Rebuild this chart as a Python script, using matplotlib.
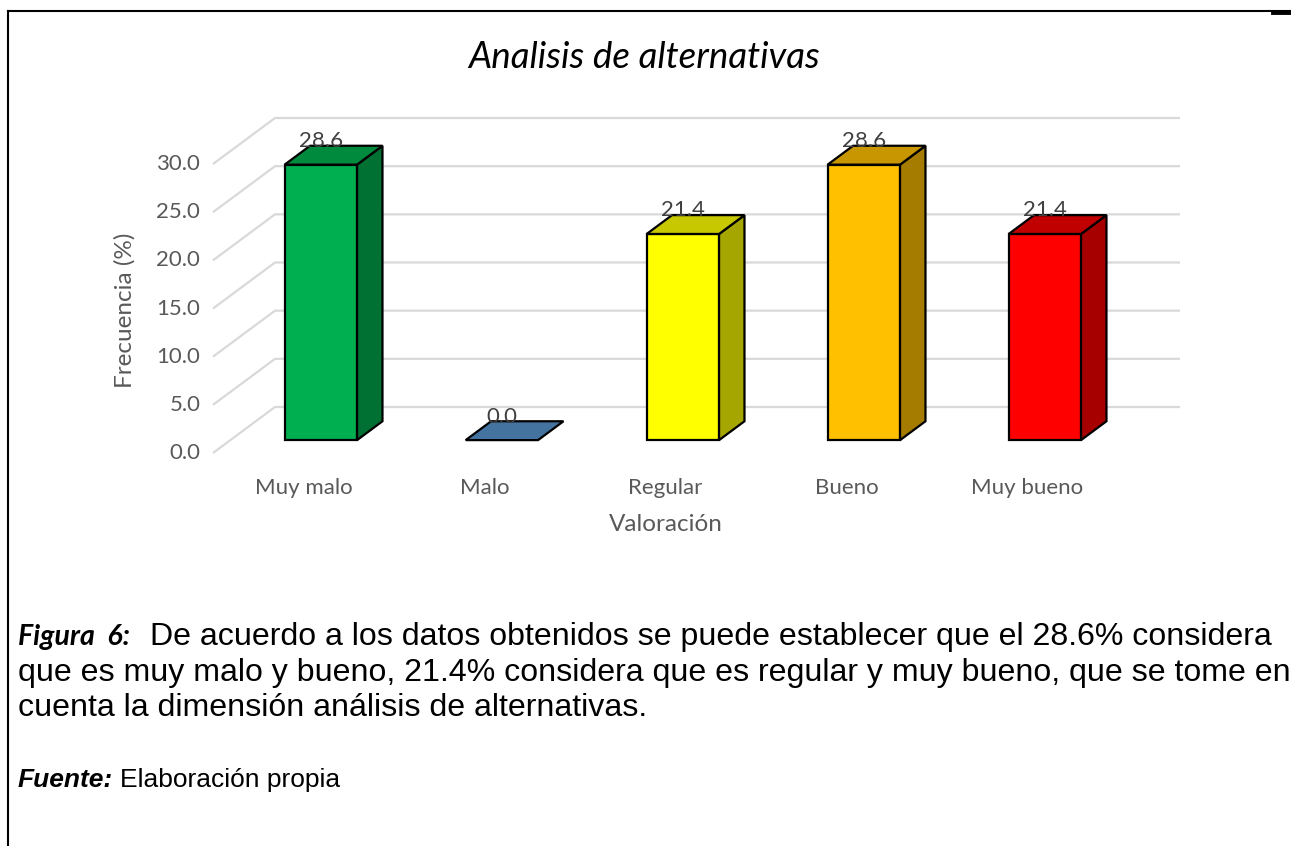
import numpy as np
import matplotlib.pyplot as plt
from matplotlib.patches import Polygon
from matplotlib.lines import Line2D

categories = ["Muy malo", "Malo", "Regular", "Bueno", "Muy bueno"]
values = [28.6, 0.0, 21.4, 28.6, 21.4]
yticks = [0, 5, 10, 15, 20, 25, 30]

front_colors = ["#00B050", "#4472A0", "#FFFF00", "#FFC000", "#FF0000"]
top_colors = ["#008A3E", "#44739F", "#C8C800", "#C89600", "#C00000"]
side_colors = ["#007033", "#355A80", "#A6A600", "#A67C00", "#A60000"]

CHART_FONT = "Lato"
TEXT_FONT = "Liberation Sans"
GRAY = "#595959"

# oblique "3D" projection: depth z in [0, 1] shifts right and up
DX = 62 / 181
DY = 46 / 9.633
BAR_W = 0.40
Z0, Z1 = 0.28, 0.69


def proj(x, y, z):
    return (x + z * DX, y + z * DY)


fig = plt.figure(figsize=(12.91, 8.46), dpi=100)
ax = fig.add_axes([0, 0, 1, 1])
# axes spans the whole figure; category width 181 px, 1 unit = 9.633 px
ax.set_xlim(-213 / 181, (1291 - 213) / 181)
ax.set_ylim((453 - 846) / 9.633, 453 / 9.633)
ax.axis("off")

n = len(categories)

# gridlines: side wall diagonal + back wall horizontal
for v in yticks:
    pts = [proj(0, v, 0), proj(0, v, 1), proj(n, v, 1)]
    ax.plot([p[0] for p in pts], [p[1] for p in pts], color="#d9d9d9",
            lw=1.6, zorder=1, solid_capstyle="butt")
    ax.text(-0.07, v, f"{v:.1f}", ha="right", va="center", fontsize=16,
            color=GRAY, family=CHART_FONT)

for i, v in enumerate(values):
    x0 = i + 0.5 - BAR_W / 2
    x1 = i + 0.5 + BAR_W / 2
    top = [proj(x0, v, Z0), proj(x1, v, Z0), proj(x1, v, Z1), proj(x0, v, Z1)]
    if v > 0:
        front = [proj(x0, 0, Z0), proj(x1, 0, Z0), proj(x1, v, Z0), proj(x0, v, Z0)]
        side = [proj(x1, 0, Z0), proj(x1, 0, Z1), proj(x1, v, Z1), proj(x1, v, Z0)]
        ax.add_patch(Polygon(front, closed=True, fc=front_colors[i], ec="black",
                             lw=1.6, zorder=3, joinstyle="miter"))
        ax.add_patch(Polygon(side, closed=True, fc=side_colors[i], ec="black",
                             lw=1.6, zorder=3, joinstyle="miter"))
    ax.add_patch(Polygon(top, closed=True, fc=top_colors[i], ec="black",
                         lw=1.6, zorder=3, joinstyle="miter"))
    lx, ly = proj(i + 0.5, v, Z0)
    ax.text(lx, ly + 2.45, f"{v:.1f}", ha="center", va="center", fontsize=16,
            color="#404040", family=CHART_FONT, zorder=4)
    ax.text(i + 0.5, -3.63, categories[i], ha="center", va="center",
            fontsize=16, color=GRAY, family=CHART_FONT)

ax.text(n / 2, -7.47, "Valoración", ha="center", va="center", fontsize=17.5,
        color=GRAY, family=CHART_FONT)
ax.text(-0.486, 14.85, "Frecuencia (%)", ha="center", va="center",
        rotation=90, fontsize=17.5, color=GRAY, family=CHART_FONT)

fig.text(644 / 1291, 1 - 57 / 846, "Analisis de alternativas", ha="center",
         va="center", fontsize=26.5, style="italic", color="black",
         family=CHART_FONT)

# caption below the chart
def fy(py):
    return 1 - py / 846

fig.text(18 / 1291, fy(645), "Figura  6:", fontsize=20.5, weight="bold",
         style="italic", family=CHART_FONT, va="baseline")
fig.text(150 / 1291, fy(645),
         "De acuerdo a los datos obtenidos se puede establecer que el 28.6% considera",
         fontsize=23.1, family=TEXT_FONT, va="baseline")
fig.text(18 / 1291, fy(681),
         "que es muy malo y bueno, 21.4% considera que es regular y muy bueno, que se tome en",
         fontsize=23.1, family=TEXT_FONT, va="baseline")
fig.text(18 / 1291, fy(716), "cuenta la dimensión análisis de alternativas.",
         fontsize=23.1, family=TEXT_FONT, va="baseline")
fig.text(18 / 1291, fy(787), "Fuente:", fontsize=19, weight="bold",
         style="italic", family=TEXT_FONT, va="baseline")
fig.text(120 / 1291, fy(787), "Elaboración propia", fontsize=19,
         family=TEXT_FONT, va="baseline")

# page border lines
fig.add_artist(Line2D([8 / 1291, 1], [fy(11), fy(11)], color="black", lw=1.5))
fig.add_artist(Line2D([1273 / 1291, 1], [fy(12), fy(12)], color="black", lw=3.5))
fig.add_artist(Line2D([8 / 1291, 8 / 1291], [fy(11), 0], color="black", lw=1.5))

fig.savefig("out.png", dpi=100)
